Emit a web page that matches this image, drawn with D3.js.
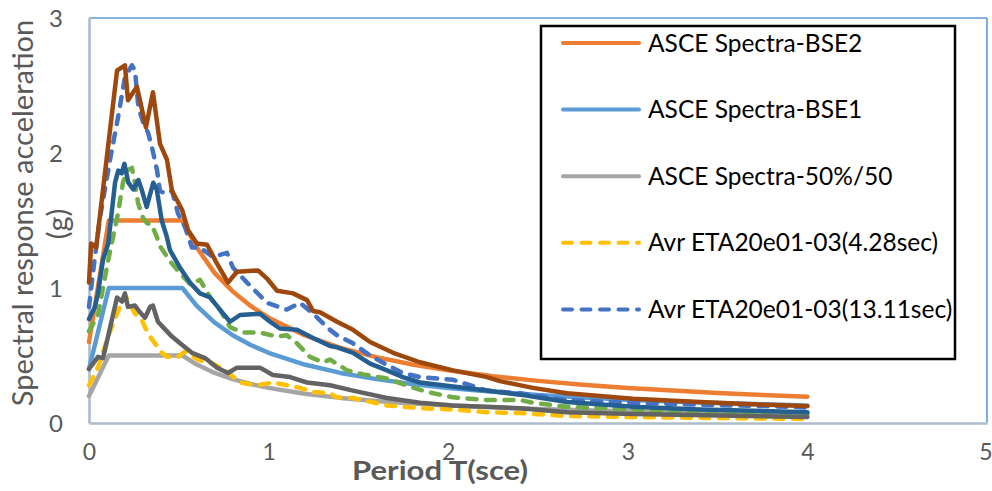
<!DOCTYPE html>
<html><head><meta charset="utf-8">
<script src="https://cdn.jsdelivr.net/npm/d3@7"></script>
<style>body{margin:0;background:#fff}svg{display:block}</style>
</head><body>
<svg id="c" width="992" height="491"></svg>
<script>
// ---------- data ----------
const xTicks = [0, 1, 2, 3, 4, 5];
const yTicks = [0, 1, 2, 3];
const xTitle = "Period T(sce)";
const yTitleLines = ["Spectral response acceleration", "(g)"];

const legendNames = ["ASCE Spectra-BSE2", "ASCE Spectra-BSE1", "ASCE Spectra-50%/50",
  "Avr ETA20e01-03(4.28sec)", "Avr ETA20e01-03(13.11sec)"];

// design spectra (period grid shared)
const designT = [0, 0.11, 0.52, 0.6, 0.7, 0.8, 0.9, 1.0, 1.2, 1.4, 1.6, 1.8, 2.0, 2.25, 2.5, 2.75, 3.0, 3.25, 3.5, 3.75, 4.0];
const bse2 = [0.6, 1.5, 1.5, 1.30, 1.11, 0.975, 0.867, 0.78, 0.65, 0.557, 0.488, 0.433, 0.39, 0.347, 0.312, 0.284, 0.26, 0.24, 0.223, 0.208, 0.195];
const bse1 = [0.4, 1.0, 1.0, 0.867, 0.743, 0.65, 0.578, 0.52, 0.433, 0.371, 0.325, 0.289, 0.26, 0.231, 0.208, 0.189, 0.173, 0.16, 0.149, 0.139, 0.13];
const sle50 = [0.2, 0.5, 0.5, 0.433, 0.371, 0.325, 0.289, 0.26, 0.217, 0.186, 0.163, 0.144, 0.13, 0.116, 0.104, 0.095, 0.087, 0.08, 0.074, 0.069, 0.065];

// record averages [T, Sa]
const avr428 = [[0,0.28],[0.05,0.41],[0.106,0.64],[0.156,0.81],[0.2,0.95],[0.217,0.91],[0.256,0.81],[0.295,0.76],[0.329,0.66],[0.367,0.59],[0.406,0.52],[0.434,0.49],[0.496,0.49],[0.535,0.53],[0.607,0.47],[0.646,0.45],[0.69,0.44],[0.768,0.38],[0.841,0.30],[0.935,0.28],[1.024,0.30],[1.102,0.28],[1.175,0.26],[1.247,0.23],[1.342,0.22],[1.381,0.19],[1.47,0.185],[1.659,0.13],[1.843,0.11],[2.027,0.10],[2.216,0.08],[2.4,0.074],[2.661,0.052],[3.029,0.044],[4.0,0.03]];
const avr1311 = [[0,0.86],[0.03,1.2],[0.061,1.52],[0.117,1.95],[0.161,2.26],[0.2,2.56],[0.239,2.65],[0.256,2.61],[0.275,2.34],[0.303,2.22],[0.329,2.15],[0.351,2.04],[0.379,1.87],[0.395,1.72],[0.423,1.70],[0.462,1.72],[0.496,1.55],[0.535,1.45],[0.573,1.30],[0.618,1.30],[0.69,1.23],[0.768,1.26],[0.802,1.15],[0.88,1.04],[0.991,0.89],[1.102,0.84],[1.175,0.89],[1.247,0.81],[1.342,0.69],[1.381,0.65],[1.47,0.59],[1.565,0.50],[1.659,0.43],[1.748,0.37],[1.843,0.34],[2.027,0.32],[2.216,0.24],[2.4,0.22],[2.661,0.17],[3.029,0.15],[3.402,0.135],[3.775,0.125],[4.0,0.115]];
const recGreen = [[0,0.68],[0.05,0.80],[0.106,1.2],[0.161,1.55],[0.189,1.78],[0.212,1.87],[0.239,1.89],[0.256,1.78],[0.273,1.63],[0.301,1.52],[0.323,1.48],[0.349,1.47],[0.377,1.38],[0.395,1.31],[0.45,1.2],[0.507,1.11],[0.562,1.03],[0.618,1.06],[0.674,0.93],[0.729,0.84],[0.785,0.71],[0.857,0.67],[0.952,0.67],[1.047,0.64],[1.102,0.65],[1.158,0.59],[1.23,0.49],[1.303,0.45],[1.342,0.47],[1.437,0.39],[1.526,0.36],[1.659,0.33],[1.787,0.27],[1.882,0.23],[2.027,0.19],[2.216,0.17],[2.4,0.17],[2.472,0.15],[2.661,0.12],[3.029,0.10],[3.402,0.075],[4.0,0.07]];
const recGray = [[0,0.40],[0.05,0.49],[0.078,0.48],[0.106,0.64],[0.156,0.93],[0.184,0.90],[0.2,0.96],[0.217,0.86],[0.256,0.87],[0.284,0.82],[0.312,0.78],[0.34,0.86],[0.356,0.87],[0.384,0.75],[0.412,0.71],[0.462,0.64],[0.507,0.59],[0.573,0.52],[0.646,0.48],[0.657,0.47],[0.713,0.41],[0.774,0.37],[0.824,0.41],[0.952,0.41],[1.024,0.355],[1.119,0.34],[1.214,0.30],[1.342,0.28],[1.47,0.24],[1.659,0.185],[1.843,0.15],[2.027,0.13],[2.4,0.11],[2.661,0.08],[3.029,0.067],[4.0,0.045]];
const recDarkBlue = [[0,0.77],[0.033,0.86],[0.05,0.96],[0.078,1.21],[0.107,1.33],[0.145,1.78],[0.163,1.87],[0.182,1.85],[0.197,1.92],[0.219,1.78],[0.247,1.73],[0.275,1.80],[0.293,1.73],[0.321,1.60],[0.358,1.78],[0.377,1.73],[0.405,1.50],[0.433,1.38],[0.451,1.28],[0.507,1.15],[0.562,1.04],[0.618,0.96],[0.674,0.93],[0.729,0.84],[0.785,0.75],[0.841,0.80],[0.952,0.81],[1.008,0.75],[1.063,0.70],[1.158,0.69],[1.247,0.63],[1.342,0.57],[1.381,0.56],[1.47,0.52],[1.565,0.44],[1.659,0.39],[1.748,0.34],[1.843,0.30],[2.027,0.27],[2.216,0.24],[2.4,0.21],[2.661,0.155],[3.029,0.12],[3.402,0.10],[4.0,0.08]];
const recBrown = [[0,1.04],[0.012,1.33],[0.04,1.3],[0.156,2.61],[0.2,2.65],[0.217,2.39],[0.267,2.49],[0.317,2.19],[0.356,2.45],[0.395,2.07],[0.434,1.95],[0.462,1.72],[0.518,1.58],[0.551,1.43],[0.601,1.33],[0.657,1.32],[0.713,1.18],[0.774,1.04],[0.824,1.12],[0.941,1.13],[0.991,1.07],[1.047,0.98],[1.136,0.96],[1.214,0.91],[1.247,0.83],[1.286,0.82],[1.381,0.75],[1.47,0.69],[1.565,0.60],[1.693,0.52],[1.843,0.45],[2.027,0.39],[2.216,0.34],[2.288,0.31],[2.472,0.26],[2.661,0.22],[3.029,0.18],[3.402,0.155],[3.775,0.135],[4.0,0.125]];

// ---------- layout ----------
const svg = d3.select("#c");
const x = d3.scaleLinear().domain([0, 5]).range([89, 987]);
const y = d3.scaleLinear().domain([0, 3]).range([423, 18]);
const FONT = "Lato, 'Open Sans', sans-serif";
const TXT = "#595959";

// plot border
svg.append("line").attr("x1", x(0)).attr("x2", x(5)).attr("y1", y(3)).attr("y2", y(3))
  .attr("stroke", "#5B9BD5").attr("stroke-width", 1.6);
svg.append("line").attr("x1", x(5)).attr("x2", x(5)).attr("y1", y(3)).attr("y2", y(0))
  .attr("stroke", "#5B9BD5").attr("stroke-width", 1.6);

// axes
const xAxis = d3.axisBottom(x).tickValues(xTicks).tickSize(0).tickPadding(0).tickFormat(d3.format("d"));
const gx = svg.append("g").attr("transform", `translate(0,${y(0)})`).call(xAxis);
gx.select(".domain").attr("stroke", "#ADBCCD").attr("stroke-width", 2.6);
gx.selectAll("text").attr("y", 29).attr("dy", "0.35em").attr("fill", TXT)
  .style("font-family", FONT).style("font-size", "23px");
gx.selectAll(".tick").filter(d => d === 5).select("text").attr("text-anchor", "end").attr("x", 5);

const yAxis = d3.axisLeft(y).tickValues(yTicks).tickSize(0).tickPadding(0).tickFormat(d3.format("d"));
const gy = svg.append("g").attr("transform", `translate(${x(0)},0)`).call(yAxis);
gy.select(".domain").attr("stroke", "#ADBCCD").attr("stroke-width", 2.6);
gy.selectAll("text").attr("x", -26).attr("dy", "0.35em").attr("fill", TXT)
  .style("font-family", FONT).style("font-size", "24px");

// titles
svg.append("text").attr("x", 440).attr("y", 471).attr("dy", "0.35em").attr("text-anchor", "middle")
  .attr("fill", TXT).style("font-family", FONT).style("font-weight", "bold").style("font-size", "27px")
  .attr("textLength", 176).attr("lengthAdjust", "spacingAndGlyphs")
  .text(xTitle);
svg.append("text").attr("transform", "translate(23,213) rotate(-90)").attr("dy", "0.35em")
  .attr("text-anchor", "middle").attr("fill", TXT).style("font-family", FONT).style("font-size", "29px")
  .text(yTitleLines[0]);
svg.append("text").attr("transform", "translate(58,224) rotate(-90)").attr("dy", "0.35em")
  .attr("text-anchor", "middle").attr("fill", TXT).style("font-family", FONT).style("font-size", "29px")
  .text(yTitleLines[1]);

// series
const line = d3.line().x(d => x(d[0])).y(d => y(d[1]));
const zipD = vals => designT.map((t, i) => [t, vals[i]]);
const series = [
  { data: zipD(bse2), color: "#ED7D31", dash: null, name: legendNames[0] },
  { data: zipD(bse1), color: "#5B9BD5", dash: null, name: legendNames[1] },
  { data: zipD(sle50), color: "#A5A5A5", dash: null, name: legendNames[2] },
  { data: avr428, color: "#FFC000", dash: "9,9.5", name: legendNames[3] },
  { data: avr1311, color: "#4472C4", dash: "9,9.5", name: legendNames[4] },
  { data: recGreen, color: "#70AD47", dash: "9,9.5" },
  { data: recGray, color: "#636363", dash: null },
  { data: recDarkBlue, color: "#255E91", dash: null },
  { data: recBrown, color: "#9E480E", dash: null }
];
svg.append("g").selectAll("path").data(series).join("path")
  .attr("d", s => line(s.data)).attr("fill", "none")
  .attr("stroke", s => s.color).attr("stroke-width", 4.5)
  .attr("stroke-linejoin", "round").attr("stroke-linecap", "round")
  .attr("stroke-dasharray", s => s.dash);

// legend
const lg = svg.append("g");
lg.append("rect").attr("x", 541).attr("y", 26).attr("width", 414).attr("height", 333)
  .attr("fill", "#fff").attr("stroke", "#000").attr("stroke-width", 2.5);
const items = lg.selectAll("g.it").data(series.filter(s => s.name)).join("g").attr("class", "it")
  .attr("transform", (d, i) => `translate(0,${43 + i * 66.6})`);
items.append("line").attr("x1", 563).attr("x2", 639).attr("stroke", d => d.color)
  .attr("stroke-width", 4).attr("stroke-linecap", "round").attr("stroke-dasharray", d => d.dash);
items.append("text").attr("x", 648).attr("dy", "0.35em").attr("fill", "#000")
  .style("font-family", FONT).style("font-size", "24.5px").text(d => d.name);
</script>
</body></html>
